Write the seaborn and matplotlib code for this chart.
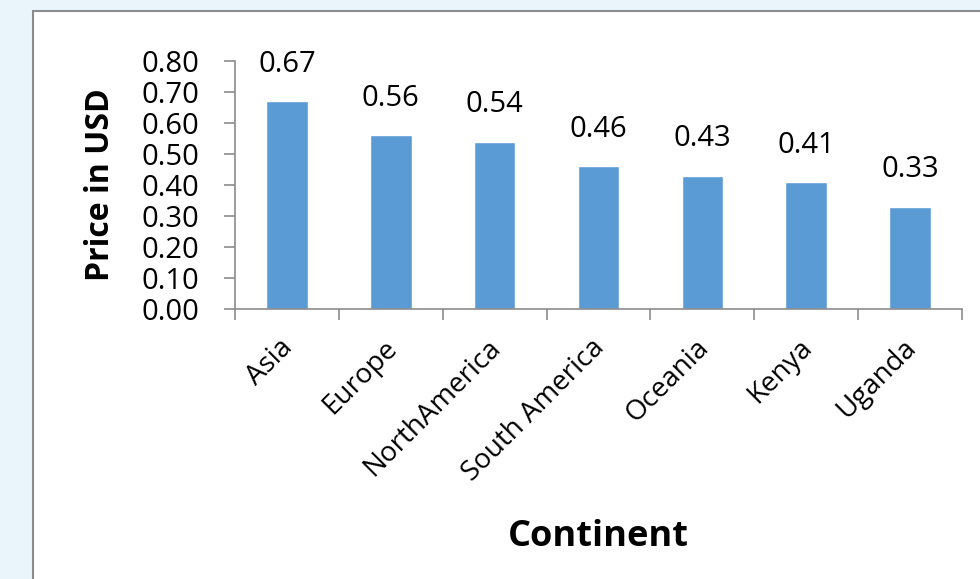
import matplotlib
matplotlib.use("Agg")
import matplotlib.pyplot as plt
import matplotlib.transforms as mtransforms
import seaborn as sns
import pandas as pd
from matplotlib.patches import Rectangle

categories = ["Asia", "Europe", "NorthAmerica", "South America", "Oceania", "Kenya", "Uganda"]
prices = [0.67, 0.56, 0.54, 0.46, 0.43, 0.41, 0.33]
yticks = [0.0, 0.1, 0.2, 0.3, 0.4, 0.5, 0.6, 0.7, 0.8]

sns.set_theme(style="white")
plt.rcParams['font.family'] = ['Open Sans', 'DejaVu Sans']
plt.rcParams['text.color'] = 'black'
plt.rcParams['axes.labelcolor'] = 'black'
plt.rcParams['xtick.color'] = 'black'
plt.rcParams['ytick.color'] = 'black'

fig = plt.figure(figsize=(9.8, 5.79), dpi=100, facecolor="#eaf4fb")
fig.patches.append(Rectangle((33/980, -0.05), 1.0, 1 - 11/579 + 0.05, transform=fig.transFigure,
                             facecolor="white", edgecolor="#8c8c8c", linewidth=1.5, zorder=-5))
ax = fig.add_axes([235/980, 1 - 309/579, (962-235)/980, (309-61)/579])
ax.set_facecolor("white")
ax.patch.set_alpha(0)

df = pd.DataFrame({"Continent": categories, "Price": prices})
sns.barplot(data=df, x="Continent", y="Price", color="#5b9bd5", width=0.4, saturation=1, ax=ax)
for c in ax.containers:
    ax.bar_label(c, labels=[f"{v:.2f}" for v in prices], padding=16, fontsize=21, color="black")

ax.set_xlim(-0.5, len(categories) - 0.5)
ax.set_ylim(0, 0.8)
ax.set_yticks(yticks)
ax.set_yticklabels([f"{t:.2f}" for t in yticks], fontsize=21)
ax.set_xticks([i - 0.5 for i in range(len(categories) + 1)])
ax.set_xticklabels([])
ax.set_xticks(range(len(categories)), minor=True)
ax.set_xticklabels(categories, minor=True, rotation=45, ha="right", rotation_mode="anchor", fontsize=20)
ax.tick_params(axis="x", which="minor", length=0, pad=18)
ax.tick_params(axis="x", which="major", length=8, width=1.2, color="#8c8c8c", direction="out", bottom=True)
ax.tick_params(axis="y", length=8, width=1.2, color="#8c8c8c", labelcolor="black", direction="out", left=True, pad=18)

shift = mtransforms.ScaledTranslation(-8/100, 0, fig.dpi_scale_trans)
for lbl in ax.get_xticklabels(minor=True):
    lbl.set_transform(lbl.get_transform() + shift)

for s in ["top", "right"]:
    ax.spines[s].set_visible(False)
for s in ["left", "bottom"]:
    ax.spines[s].set_color("#8c8c8c")
    ax.spines[s].set_linewidth(1.2)

ax.set_ylabel("Price in USD", fontsize=23, fontweight="bold", labelpad=17)
ax.set_xlabel("")
fig.text((508+688)/2/980, 1 - 537/579, "Continent", fontsize=26, fontweight="bold", ha="center", va="center")

fig.savefig("out.png", dpi=100, facecolor=fig.get_facecolor())
